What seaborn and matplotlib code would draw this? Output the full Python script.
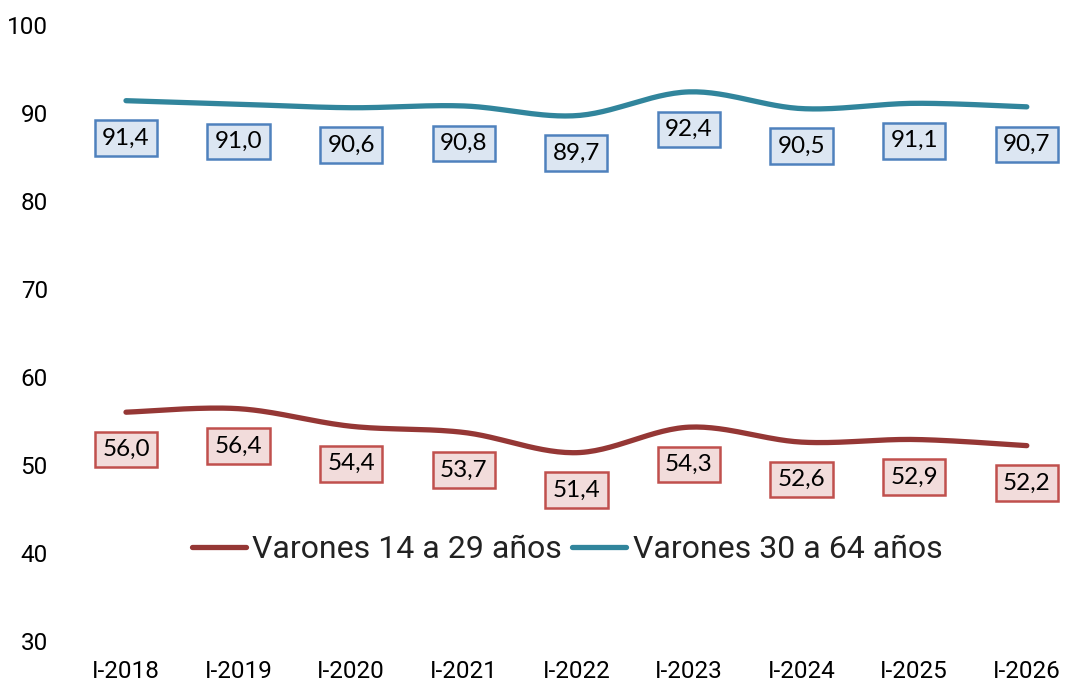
import matplotlib
matplotlib.use("Agg")
import matplotlib.pyplot as plt
from matplotlib.lines import Line2D
import numpy as np
import pandas as pd
import seaborn as sns

periods = ["I-2018", "I-2019", "I-2020", "I-2021", "I-2022", "I-2023", "I-2024", "I-2025", "I-2026"]
young = [56.0, 56.4, 54.4, 53.7, 51.4, 54.3, 52.6, 52.9, 52.2]
adult = [91.4, 91.0, 90.6, 90.8, 89.7, 92.4, 90.5, 91.1, 90.7]
young_name = "Varones 14 a 29 años"
adult_name = "Varones 30 a 64 años"

red_line = "#953735"
teal_line = "#31859C"


def smooth(xs, ys, n=30):
    # Catmull-Rom style smoothing like Excel's smoothed line
    xs = np.asarray(xs, float)
    ys = np.asarray(ys, float)
    px = np.concatenate([[xs[0]], xs, [xs[-1]]])
    py = np.concatenate([[ys[0]], ys, [ys[-1]]])
    out_x, out_y = [], []
    for i in range(1, len(px) - 2):
        p0x, p1x, p2x, p3x = px[i - 1], px[i], px[i + 1], px[i + 2]
        p0y, p1y, p2y, p3y = py[i - 1], py[i], py[i + 1], py[i + 2]
        c1x, c1y = p1x + (p2x - p0x) / 6, p1y + (p2y - p0y) / 6
        c2x, c2y = p2x - (p3x - p1x) / 6, p2y - (p3y - p1y) / 6
        t = np.linspace(0, 1, n, endpoint=(i == len(px) - 3))
        bx = (1 - t) ** 3 * p1x + 3 * (1 - t) ** 2 * t * c1x + 3 * (1 - t) * t ** 2 * c2x + t ** 3 * p2x
        by = (1 - t) ** 3 * p1y + 3 * (1 - t) ** 2 * t * c1y + 3 * (1 - t) * t ** 2 * c2y + t ** 3 * p2y
        out_x.extend(bx)
        out_y.extend(by)
    return np.array(out_x), np.array(out_y)


sns.set_style("white")
plt.rcParams["font.family"] = ["Roboto", "DejaVu Sans"]

fig = plt.figure(figsize=(10.65, 6.84), dpi=100)
ax = fig.add_axes([70 / 1065, 1 - 641 / 684, 1 - 70 / 1065, (641 - 25) / 684])

xpos = np.arange(len(periods))
for vals, col in [(young, red_line), (adult, teal_line)]:
    sx, sy = smooth(xpos, vals)
    df = pd.DataFrame({"x": sx, "y": sy})
    sns.lineplot(data=df, x="x", y="y", color=col, linewidth=3.8, ax=ax,
                 sort=False, solid_capstyle="round")

boxes = [(young, "#F2DCDB", "#C0504D"), (adult, "#DCE6F2", "#4F81BD")]
for vals, fc, ec in boxes:
    for x, v in zip(xpos, vals):
        ax.annotate(f"{v:.1f}".replace(".", ","), (x, v), xytext=(0, -27),
                    textcoords="offset points", ha="center", va="center",
                    fontsize=17.5, family=["Lato", "DejaVu Sans"], color="black",
                    bbox=dict(boxstyle="square,pad=0.3", fc=fc, ec=ec, lw=1.8))

ax.set_xlim((70 - 126) / 112.6, (1065 - 126) / 112.6)
ax.set_ylim(30, 100)
ax.set_yticks(range(30, 101, 10))
ax.set_xticks(xpos)
ax.set_xticklabels(periods)
ax.tick_params(axis="y", length=0, pad=16, labelsize=17.5, labelcolor="black")
ax.tick_params(axis="x", length=0, pad=14, labelsize=17.5, labelcolor="black")
ax.set_xlabel("")
ax.set_ylabel("")
sns.despine(ax=ax, left=True, bottom=True)

handles = [Line2D([0], [0], color=red_line, lw=3.8, solid_capstyle="round"),
           Line2D([0], [0], color=teal_line, lw=3.8, solid_capstyle="round")]
ax.legend(handles, [young_name, adult_name], loc="center", bbox_to_anchor=(567 / 1065, 1 - 550 / 684),
          bbox_transform=fig.transFigure, ncol=2, frameon=False, fontsize=23,
          handlelength=1.7, handletextpad=0.2, columnspacing=0.3, labelcolor="#222222")

fig.savefig("out.png", dpi=100)
